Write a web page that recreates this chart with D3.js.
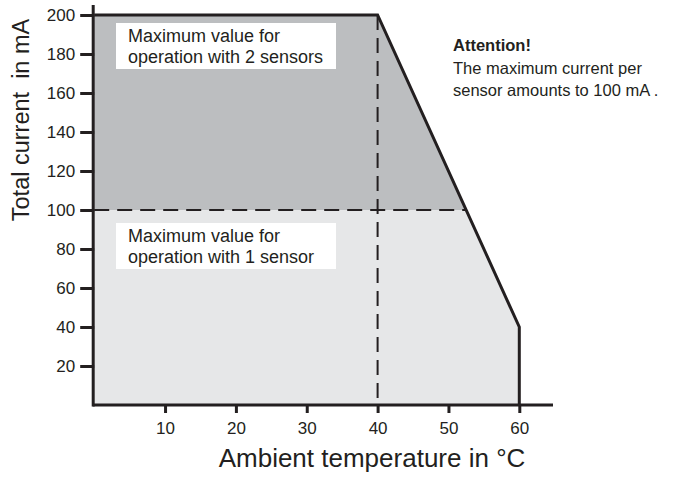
<!DOCTYPE html>
<html>
<head>
<meta charset="utf-8">
<script src="https://cdn.jsdelivr.net/npm/d3@7"></script>
<style>
  body { margin: 0; background: #fff; }
  svg text { font-family: "Liberation Sans", Arial, Helvetica, sans-serif; fill: #231f20; }
</style>
</head>
<body>
<div id="chart"></div>
<script>
// derating curve: total current vs ambient temperature
const curveTemp = [0, 40, 52.5, 60, 60];
const curveCurrent = [200, 200, 100, 40, 0];
const sensor1Limit = 100;
const dividerTemp = 40;
const xTicks = [10, 20, 30, 40, 50, 60];
const yTicks = [20, 40, 60, 80, 100, 120, 140, 160, 180, 200];
const box2Lines = ["Maximum value for", "operation with 2 sensors"];
const box1Lines = ["Maximum value for", "operation with 1 sensor"];
const noteLines = ["Attention!", "The maximum current per", "sensor amounts to 100 mA ."];

const width = 680, height = 479;
const ink = "#231f20";

const svg = d3.select("#chart").append("svg")
    .attr("width", width)
    .attr("height", height);

const x = d3.scaleLinear().domain([0, 60]).range([94.2, 519.3]);
const y = d3.scaleLinear().domain([0, 200]).range([405, 15]);

const pts = curveTemp.map((t, i) => [t, curveCurrent[i]]);

// upper (2 sensors) region and lower (1 sensor) region
let upper = [[0, sensor1Limit]].concat(pts.filter(p => p[1] >= sensor1Limit));
let lower = [[0, 0], [0, sensor1Limit]].concat(pts.filter(p => p[1] <= sensor1Limit));

const poly = d3.line().x(d => x(d[0])).y(d => y(d[1]));

svg.append("path")
    .attr("d", poly(lower) + "Z")
    .attr("fill", "#e6e7e8");
svg.append("path")
    .attr("d", poly(upper) + "Z")
    .attr("fill", "#bcbec0");

// dashed divider lines
const limitX = pts.find(p => p[1] == sensor1Limit)[0];
svg.append("line")
    .attr("x1", x(0)).attr("x2", x(limitX))
    .attr("y1", y(sensor1Limit)).attr("y2", y(sensor1Limit))
    .attr("stroke", ink).attr("stroke-width", 2)
    .attr("stroke-dasharray", "15,8");
svg.append("line")
    .attr("x1", x(dividerTemp)).attr("x2", x(dividerTemp))
    .attr("y1", y(200)).attr("y2", y(0))
    .attr("stroke", ink).attr("stroke-width", 2)
    .attr("stroke-dasharray", "15,8");

// curve outline
svg.append("path")
    .attr("d", poly(pts.filter(p => p[1] != sensor1Limit)))
    .attr("fill", "none")
    .attr("stroke", ink)
    .attr("stroke-width", 3)
    .attr("stroke-linejoin", "miter");

// axes
const xAxis = svg.append("g")
    .attr("transform", "translate(0," + y(0) + ")")
    .call(d3.axisBottom(x).tickValues(xTicks).tickSize(8).tickPadding(9));
xAxis.select(".domain").remove();
xAxis.selectAll(".tick line").attr("stroke", ink).attr("stroke-width", 3);
xAxis.selectAll(".tick text")
    .attr("font-size", 17)
    .attr("font-family", "Liberation Sans, Arial, sans-serif")
    .attr("fill", ink);

const yAxis = svg.append("g")
    .attr("transform", "translate(" + x(0) + ",0)")
    .call(d3.axisLeft(y).tickValues(yTicks).tickSize(14).tickPadding(5));
yAxis.select(".domain").remove();
yAxis.selectAll(".tick line").attr("stroke", ink).attr("stroke-width", 3);
yAxis.selectAll(".tick text")
    .attr("font-size", 17)
    .attr("font-family", "Liberation Sans, Arial, sans-serif")
    .attr("fill", ink);

svg.append("line")
    .attr("x1", x(0) - 1.5).attr("x2", 553)
    .attr("y1", y(0)).attr("y2", y(0))
    .attr("stroke", ink).attr("stroke-width", 3);
svg.append("line")
    .attr("x1", x(0) - 1).attr("x2", x(0) - 1)
    .attr("y1", 5).attr("y2", y(0) + 1.5)
    .attr("stroke", ink).attr("stroke-width", 3);

// axis titles
svg.append("text")
    .attr("x", 372).attr("y", 467)
    .attr("text-anchor", "middle")
    .attr("font-size", 26)
    .text("Ambient temperature in °C");

svg.append("text")
    .attr("transform", "translate(29,120) rotate(-90)")
    .attr("text-anchor", "middle")
    .attr("font-size", 23.5)
    .attr("xml:space", "preserve")
    .text("Total current  in mA");

// label boxes
function labelBox(lines, top) {
    svg.append("rect")
        .attr("x", 116).attr("y", top)
        .attr("width", 220).attr("height", 46)
        .attr("fill", "#fff");
    svg.append("g").selectAll("text")
        .data(lines)
        .enter().append("text")
        .attr("x", 128)
        .attr("y", (d, i) => top + 19 + i * 21)
        .attr("font-size", 18)
        .text(d => d);
}
labelBox(box2Lines, 23);
labelBox(box1Lines, 223);

// note
svg.append("g").selectAll("text")
    .data(noteLines)
    .enter().append("text")
    .attr("x", 453)
    .attr("y", (d, i) => 51 + i * 22.5)
    .attr("font-size", 16.5)
    .attr("font-weight", (d, i) => i == 0 ? "bold" : "normal")
    .text(d => d);
</script>
</body>
</html>
